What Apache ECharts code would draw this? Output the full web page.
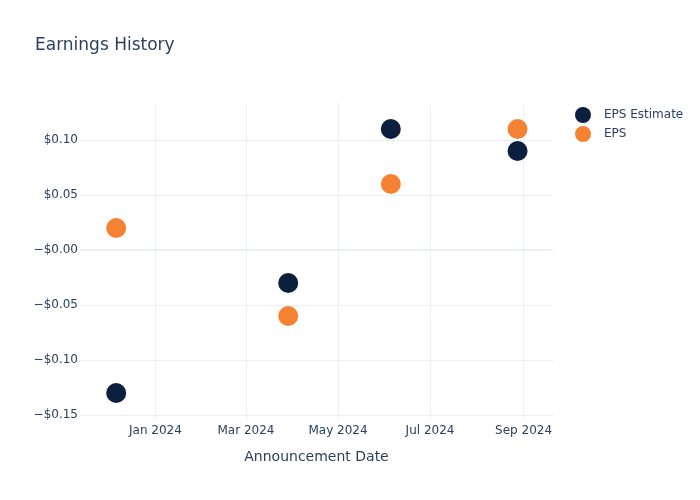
<!DOCTYPE html>
<html>
<head>
<meta charset="utf-8">
<script src="https://cdn.jsdelivr.net/npm/echarts@6/dist/echarts.min.js"></script>
<style>html,body{margin:0;padding:0;background:#fff}#c{width:700px;height:500px}</style>
</head>
<body>
<div id="c"></div>
<script>
const dates = ['2023-12-06', '2024-03-29', '2024-06-05', '2024-08-28'];
const epsEstimate = [-0.13, -0.03, 0.11, 0.09];
const eps = [0.02, -0.06, 0.06, 0.11];
const xTicks = ['2024-01-01', '2024-03-01', '2024-05-01', '2024-07-01', '2024-09-01'];
const xTickLabels = ['Jan 2024', 'Mar 2024', 'May 2024', 'Jul 2024', 'Sep 2024'];
const yTicks = [-0.15, -0.10, -0.05, 0, 0.05, 0.10];
const yTickLabels = ['\u2212$0.15', '\u2212$0.10', '\u2212$0.05', '\u2212$0.00', '$0.05', '$0.10'];

const font = 'DejaVu Sans, Verdana, sans-serif';
const textColor = '#2a3f5f';
const gridColor = '#EBF0F8';
const ts = d => new Date(d + 'T00:00:00Z').getTime();
const xTickTs = xTicks.map(ts);

const chart = echarts.init(document.getElementById('c'), null, {renderer: 'canvas'});
chart.setOption({
  animation: false,
  backgroundColor: '#fff',
  textStyle: {fontFamily: font},
  title: {
    text: 'Earnings History', left: 30, top: 32,
    textStyle: {fontFamily: font, fontSize: 17, fontWeight: 'normal', color: textColor}
  },
  legend: {
    orient: 'vertical', left: 570, top: 102, itemGap: 3,
    icon: 'circle', itemWidth: 32, itemHeight: 16,
    textStyle: {fontFamily: font, fontSize: 12, color: textColor},
    data: ['EPS Estimate', 'EPS']
  },
  grid: {left: 80, right: 147, top: 102, bottom: 80, containLabel: false},
  xAxis: {
    type: 'value',
    min: ts('2023-11-12'), max: ts('2024-09-20') + 12 * 3600 * 1000,
    name: 'Announcement Date', nameLocation: 'middle', nameGap: 30,
    nameTextStyle: {fontFamily: font, fontSize: 14, color: textColor},
    axisLine: {show: false},
    axisTick: {show: false, customValues: xTickTs},
    axisLabel: {
      customValues: xTickTs, color: textColor, fontSize: 12, fontFamily: font, margin: 5,
      formatter: v => {
        const i = xTickTs.indexOf(v);
        return i >= 0 ? xTickLabels[i] : '';
      }
    },
    splitLine: {show: true, lineStyle: {color: gridColor, width: 1}}
  },
  yAxis: {
    type: 'value', min: -0.1545, max: 0.1345,
    axisLine: {show: false}, axisTick: {show: false, customValues: yTicks},
    axisLabel: {
      customValues: yTicks, color: textColor, fontSize: 12, fontFamily: font, margin: 2,
      formatter: v => {
        const i = yTicks.findIndex(t => Math.abs(t - v) < 1e-9);
        return i >= 0 ? yTickLabels[i] : '';
      }
    },
    splitLine: {show: true, lineStyle: {color: gridColor, width: 1}}
  },
  series: [
    {
      name: 'EPS Estimate', type: 'scatter', symbolSize: 20, z: 3,
      itemStyle: {color: '#0c1f3e', opacity: 1},
      data: dates.map((d, i) => [ts(d), epsEstimate[i]]),
      markLine: {
        silent: true, symbol: 'none', label: {show: false},
        lineStyle: {color: gridColor, width: 2, type: 'solid'},
        data: [{yAxis: 0}]
      }
    },
    {
      name: 'EPS', type: 'scatter', symbolSize: 20, z: 3,
      itemStyle: {color: '#f58233', opacity: 1},
      data: dates.map((d, i) => [ts(d), eps[i]])
    }
  ]
});
</script>
</body>
</html>
